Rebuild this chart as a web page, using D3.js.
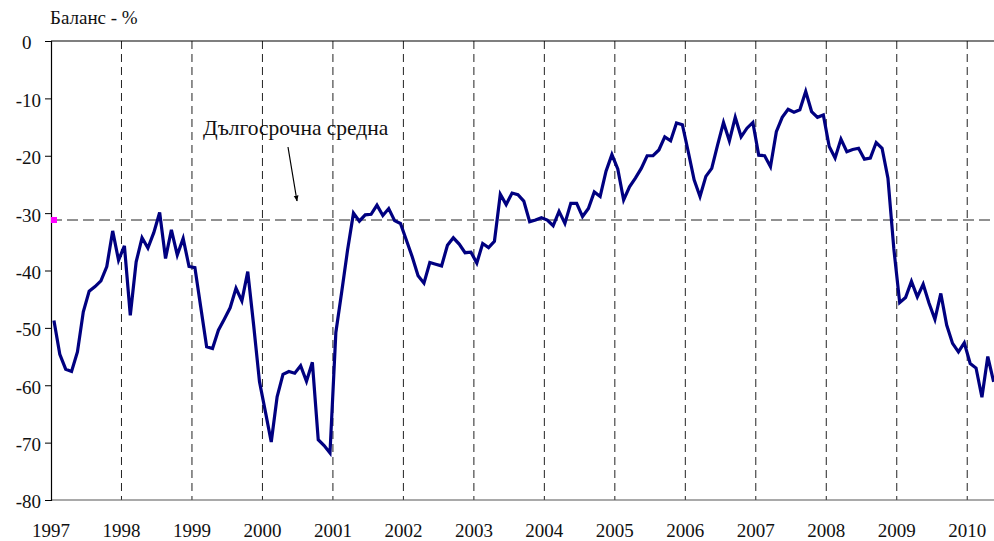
<!DOCTYPE html>
<html>
<head>
<meta charset="utf-8">
<script src="https://cdn.jsdelivr.net/npm/d3@7"></script>
<style>
  body { margin: 0; background: #fff; }
  text { font-family: "Liberation Serif", "Times New Roman", serif; fill: #111; }
</style>
</head>
<body>
<svg id="chart" width="994" height="541"></svg>
<script>
// monthly balance, Jan 1997 .. May 2010
const balance = [
  -48.7, -54.6, -57.2, -57.6, -54.2, -47.2, -43.6, -42.8, -41.8, -39.3, -33.1, -38.2,
  -35.7, -47.8, -38.5, -34.3, -36.1, -33.4, -29.9, -37.9, -32.9, -37.3, -34.4, -39.3,
  -39.5, -46.4, -53.3, -53.6, -50.4, -48.5, -46.5, -43.1, -45.3, -40.2, -49.5, -59.4,
  -64.6, -69.9, -62.0, -58.1, -57.6, -57.9, -56.6, -59.3, -56.0, -69.5, -70.5, -71.8,
  -50.8, -43.7, -36.4, -30.0, -31.4, -30.3, -30.2, -28.6, -30.4, -29.2, -31.3, -31.8,
  -34.7, -37.6, -40.9, -42.2, -38.6, -38.9, -39.2, -35.6, -34.3, -35.4, -36.9, -36.8,
  -38.7, -35.3, -36.0, -34.9, -26.7, -28.5, -26.5, -26.8, -27.9, -31.5, -31.2, -30.8,
  -31.2, -32.2, -29.7, -31.8, -28.3, -28.3, -30.6, -29.2, -26.3, -27.1, -22.7, -19.8,
  -22.3, -27.7, -25.4, -23.9, -22.2, -20.0, -20.0, -19.0, -16.7, -17.4, -14.3, -14.6,
  -19.3, -24.2, -27.1, -23.6, -22.2, -18.1, -14.2, -17.4, -13.3, -16.7, -15.2, -14.2,
  -19.9, -20.0, -21.9, -15.8, -13.3, -11.9, -12.4, -12.0, -8.8, -12.3, -13.3, -12.9,
  -18.4, -20.4, -17.1, -19.3, -18.9, -18.7, -20.6, -20.4, -17.7, -18.7, -23.9, -36.2,
  -45.6, -44.7, -41.9, -44.6, -42.4, -45.7, -48.5, -44.0, -49.5, -52.7, -54.2, -52.6,
  -56.2, -57.0, -62.1, -55.0, -59.4
];
const startYear = 1997;
const years = d3.range(1997, 2011);
const yTicks = [0, -10, -20, -30, -40, -50, -60, -70, -80];
const longTermAvg = -31.2;
const yTitle = "Баланс - %";
const avgLabel = "Дългосрочна средна";

const svg = d3.select("#chart");
const m = { left: 51, right: 996.6, top: 41, bottom: 500, edge: 994 };

const x = d3.scaleLinear().domain([1997, 2010 + 5 / 12]).range([m.left, m.right]);
const y = d3.scaleLinear().domain([-80, 0]).range([m.bottom, m.top]);

const data = balance.map((v, i) => ({ t: startYear + (i + 0.5) / 12, v: v }));

// year grid (dashed)
svg.append("g")
  .selectAll("line")
  .data(years.slice(1))
  .join("line")
  .attr("x1", d => x(d)).attr("x2", d => x(d))
  .attr("y1", m.top).attr("y2", m.bottom)
  .attr("stroke", "#222")
  .attr("stroke-width", 1)
  .attr("stroke-dasharray", "8,5");

// long term average
svg.append("line")
  .attr("x1", m.left).attr("x2", m.edge)
  .attr("y1", y(longTermAvg)).attr("y2", y(longTermAvg))
  .attr("stroke", "#222")
  .attr("stroke-width", 1)
  .attr("stroke-dasharray", "11,5");

// top border
svg.append("line")
  .attr("x1", m.left).attr("x2", m.edge)
  .attr("y1", m.top).attr("y2", m.top)
  .attr("stroke", "#000").attr("stroke-width", 1.2);

// x axis line
svg.append("line")
  .attr("x1", m.left).attr("x2", m.edge)
  .attr("y1", m.bottom).attr("y2", m.bottom)
  .attr("stroke", "#555").attr("stroke-width", 1.2);

// y axis
const yAxis = d3.axisLeft(y).tickValues(yTicks).tickSize(6).tickPadding(4)
  .tickFormat(d => d === 0 ? "0\u2002" : d);
const gy = svg.append("g").attr("transform", `translate(${m.left},0)`).call(yAxis);
gy.attr("font-family", null);
gy.select(".domain").attr("stroke", "#000").attr("stroke-width", 1.2);
gy.selectAll(".tick line").attr("stroke", "#000");
gy.selectAll(".tick text")
  .attr("font-size", 19)
  .attr("fill", "#111")
  .attr("dy", "0.42em");

// x labels
svg.append("g")
  .selectAll("text")
  .data(years)
  .join("text")
  .attr("x", d => x(d))
  .attr("y", 537)
  .attr("text-anchor", "middle")
  .attr("font-size", 19)
  .text(d => d);

// series line
const line = d3.line().x(d => x(d.t)).y(d => y(d.v));
svg.append("path")
  .datum(data)
  .attr("fill", "none")
  .attr("stroke", "#000080")
  .attr("stroke-width", 3.2)
  .attr("stroke-linejoin", "miter")
  .attr("d", line);

// average marker
svg.append("rect")
  .attr("x", m.left).attr("y", y(longTermAvg) - 3)
  .attr("width", 6).attr("height", 6)
  .attr("fill", "#ff00ff");

// titles
svg.append("text")
  .attr("x", 50).attr("y", 24)
  .attr("font-size", 19)
  .text(yTitle);

svg.append("text")
  .attr("x", 203).attr("y", 135)
  .attr("font-size", 21.5)
  .text(avgLabel);

// arrow
svg.append("defs").append("marker")
  .attr("id", "arr")
  .attr("viewBox", "0 0 10 10")
  .attr("refX", 9).attr("refY", 5)
  .attr("markerWidth", 5).attr("markerHeight", 5)
  .attr("orient", "auto")
  .append("path").attr("d", "M0,1 L10,5 L0,9 Z").attr("fill", "#000");

svg.append("line")
  .attr("x1", 288).attr("y1", 147)
  .attr("x2", 297).attr("y2", 201)
  .attr("stroke", "#000").attr("stroke-width", 1.2)
  .attr("marker-end", "url(#arr)");
</script>
</body>
</html>
